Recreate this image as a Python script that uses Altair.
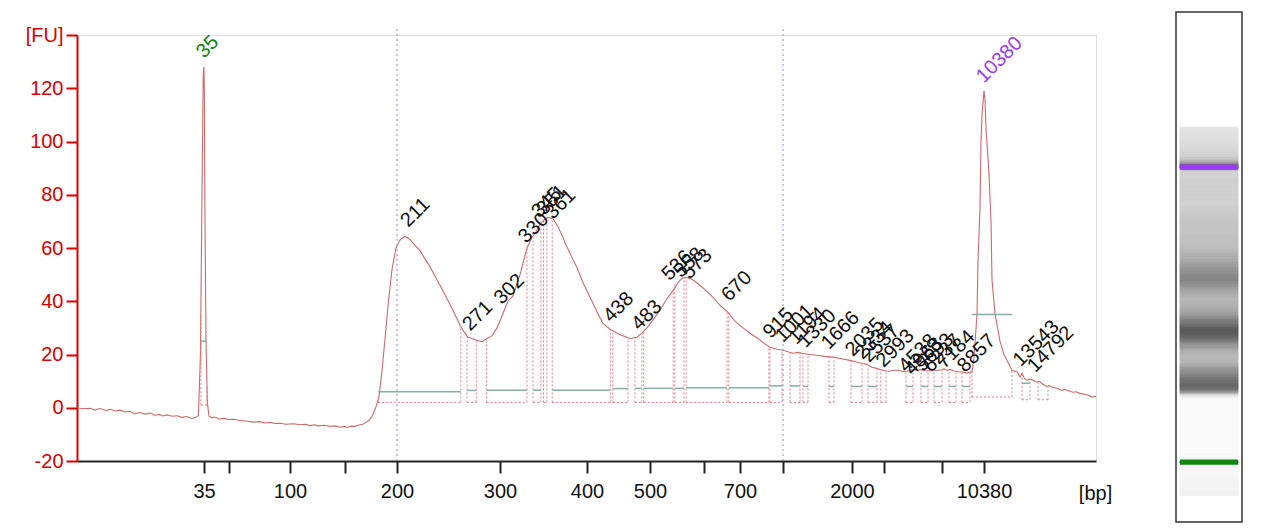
import altair as alt
import pandas as pd

# ---------------- data ----------------
CURVE_BP = [10, 11.2, 12.6, 13.5, 14.5, 15.7, 16.6, 17.5, 18.5, 19.5, 20.4, 21.4, 22.4, 23.4, 24.4,
            25.4, 26.2, 26.9, 27.8, 28.7, 29.7, 30.7, 31.6, 32.6, 33.3, 33.9, 34.3, 34.6, 34.85, 35.0,
            35.2, 35.6, 36.2, 37.0, 38.0, 39.8, 41.6, 44, 47, 50, 54, 59, 64, 69.7, 75, 79.5, 84, 87.7,
            92, 96.7, 103, 109.1, 114, 118.2, 122, 125.5, 131, 136.4, 141, 145.5, 150, 152, 156, 159.6,
            163, 167.3, 170, 173.1, 176, 177.9, 179.9, 182.7, 185.6, 188.5, 191.3, 195.2, 199.0, 202.9,
            207.8, 212.6, 217.5, 222.3, 227, 232.0, 236.8, 241.7, 248.5, 256.3, 261.2, 265, 268.9, 273,
            277.7, 282.5, 287.4, 292.2, 297.1, 303.4, 309.2, 314.9, 318, 323.0, 327, 331.0, 336.8, 341.4,
            346.0, 350.6, 355.2, 360.9, 366.7, 372.4, 376, 380.5, 384, 388.5, 395.4, 404.8, 410, 415.9,
            425.4, 436.5, 447.6, 457.1, 468.3, 479.4, 487.3, 495.2, 505.6, 518.5, 531.5, 542.6, 551.9,
            559.3, 566.7, 574.1, 583.3, 592.6, 605.6, 625.0, 644.4, 666.7, 686.1, 720.9, 769.8, 825.6,
            874.4, 909.3, 958.1, 1000, 1070, 1145, 1220, 1290, 1390, 1493, 1600, 1725, 1850, 1971, 2090,
            2188, 2330, 2469, 2620, 2781, 2900, 3000, 3200, 3414, 3700, 3966, 4300, 4586, 4800, 5069,
            5300, 5483, 5750, 6035, 6300, 6655, 7000, 7161, 7400, 7644, 7950, 8288, 8650, 9012, 9250,
            9414, 9575, 9817, 9897, 10058, 10139, 10219, 10380, 10466, 10552, 10809, 10981, 11067, 11325,
            11754, 12098, 12355, 12785, 13214, 13472, 13644, 13850, 14073, 14300, 14503, 14932, 15150,
            15362, 15791, 16000, 16221, 16650, 17080, 17300, 17509, 18024, 18300, 18626, 19141, 19400,
            19656, 20000]
CURVE_FU = [0.0, -0.4, -0.2, -0.9, -0.3, -1.0, -0.6, -1.2, -0.9, -1.6, -1.3, -2.3, -1.8, -2.4, -2.0,
            -2.8, -2.5, -3.1, -2.7, -3.2, -3.0, -3.6, -3.3, -4.0, -3.7, -3.0, 20, 80, 125, 128,
            118, 70, 25, 2, -3.2, -3.8, -3.5, -4.2, -4.0, -4.4, -4.3, -4.8, -5.0, -5.4, -5.2, -5.7, -5.5, -5.9,
            -5.8, -6.2, -6.0, -6.4, -6.2, -6.7, -6.4, -6.8, -6.6, -7.0, -6.8, -7.3, -7.0, -7.4, -6.9, -7.0,
            -6.5, -6.2, -5.5, -4.7, -3.2, -1.5, 0.5, 4, 14, 26, 38, 52, 60, 63,
            64.4, 63.2, 61, 59, 56, 53, 49.5, 46, 41, 35, 31, 28.5, 26.5, 26,
            25.3, 24.8, 26, 27, 30, 35.4, 40, 42, 45, 50, 55, 60, 64, 66,
            69, 70.5, 71.5, 71, 68, 64, 61, 58, 55.5, 52.7, 47, 41.5, 39, 36,
            31.7, 29.5, 28, 27, 26, 26.5, 28, 30, 33, 36.6, 41, 44, 47,
            48.6, 49, 48.6, 47.5, 46, 44, 41.5, 38.5, 35.8, 32.5, 30, 28, 26,
            24, 22.7, 22, 21.6, 21.0, 20.5, 20.8, 20.4, 20.0, 19.7, 19.3, 19.0, 18.4, 17.8, 17.4,
            17.0, 16.6, 16.3, 15.2, 14.8, 14.3, 14.0, 13.8, 13.7, 14.2, 14.0, 13.6, 13.7, 14.1, 14.3,
            14.0, 14.4, 14.0, 13.8, 14.2, 14.0, 14.3, 14.6, 14.1, 14.4, 13.8, 13.5, 13.4, 13.0, 13.4,
            13.3, 19, 35, 55, 75, 100, 110, 119, 116, 105, 88, 70, 48, 35.4,
            25, 20, 17.8, 14, 13.5, 11.5, 13, 11, 10.3, 10.8, 10.5, 9.6, 9.9,
            9, 8, 8.3, 7.8, 7.3, 6.5, 6.9, 6.6, 5.8, 6.0, 5.4, 5.0, 4.6,
            4.0, 4.3]

PEAK_BP = [35, 211, 271, 302, 330, 345, 351, 361, 438, 483, 536, 558, 573, 670, 915, 1001, 1194, 1330,
           1666, 2035, 2334, 2537, 2993, 4538, 4963, 5693, 6237, 7184, 8857, 10380, 13543, 14792]
PEAK_FU = [131, 67.5, 28.5, 38.5, 61.5, 71, 72, 70.5, 31.7, 28.7, 47.4, 48.5, 48, 39.6, 25.7, 24.2,
           23.5, 22.3, 21.6, 19, 17.8, 16.7, 14.8, 13, 11.8, 13.3, 13, 14.4, 13, 121.7, 15.2, 13]
PEAK_KIND = ["lower marker"] + ["sample"] * 28 + ["upper marker"] + ["sample"] * 2

REG_START = [34.4, 182, 268, 287, 338, 350, 360, 441, 476, 490, 546, 567, 669, 909, 1101, 1290, 1667,
             1986, 2500, 2900, 4517, 5552, 6448, 7563, 8610, 9414, 13644, 15018]
REG_END = [36.8, 262, 277, 331, 347, 354, 437, 465, 487, 543, 563, 664, 902, 993, 1246, 1362, 1739,
           2313, 2781, 3138, 5000, 6035, 7000, 8127, 9253, 12785, 14331, 15877]
REG_START_FU = [35, 4, 26.5, 26, 64, 70.5, 71, 28, 26.5, 29, 47, 49, 36, 22.7, 21, 20.4, 19,
                17.8, 15.2, 14.3, 13.7, 13.8, 14, 14.4, 13.4, 13.3, 13, 9.6]
REG_END_FU = [8, 31, 25.3, 60, 69, 71.5, 29.5, 26, 28, 44, 48.6, 35.8, 22.7, 21.6, 20.8, 20.2, 19,
              16.6, 14.8, 13.8, 14.3, 13.8, 14.3, 13.5, 13.4, 14, 10.8, 8]
REG_LOW = [1, 2, 2, 2, 2, 2, 2, 2, 2, 2, 2, 2, 2, 2, 2, 2, 2, 2, 2, 2, 2, 2, 2, 2, 2, 4, 3, 3]
REG_BASE = [25, 6.0, 6.5, 6.6, 6.6, None, 6.6, 7.2, 7.3, 7.3, 7.3, 7.5, 7.5, 8.2, 8.2, 8.0, 8.0,
            8.0, 8.0, None, 8.0, 8.0, 8.0, 8.0, 8.0, 35, 9.2, None]

REGION_MARKS = [200, 1000]

BAND_KIND = ["lower marker", "upper marker"]
BAND_FROM = [33.6, 9855]
BAND_TO = [38.8, 10947]

TICK_BP = [35, 50, 100, 150, 200, 300, 400, 500, 600, 700, 1000, 2000, 3000, 7000, 10380]
TICK_LABELED = [35, 100, 200, 300, 400, 500, 700, 2000, 10380]
Y_TICKS = [-20, 0, 20, 40, 60, 80, 100, 120, 140]

# ---------------- scale geometry (ladder calibration) ----------------
SCALE_BP = [10, 35, 50, 100, 150, 200, 300, 400, 500, 600, 700, 1000, 2000, 3000, 7000, 10380, 20000]
SCALE_PX = [0, 127, 152, 213, 268, 320, 423, 510, 573, 627, 663, 706, 775, 807, 865, 907, 1019]
LANE_PX = [427 - 0.3782 * (p - 127) for p in SCALE_PX]

W, H = 1019, 426
FONT = "Liberation Sans"
FS = 20
RED = "#d40000"
CURVE_COL = "#cc6a6a"
DOT_COL = "#e08080"
TEAL = "#86b0a6"
BLUE = "#8a8ad0"
GREEN = "#118811"
PURPLE = "#9b3cf0"

curve = pd.DataFrame({"bp": CURVE_BP, "fu": CURVE_FU})
peaks = pd.DataFrame({"bp": PEAK_BP, "fu": PEAK_FU, "kind": PEAK_KIND})
regions = pd.DataFrame({"start": REG_START, "end": REG_END, "start_fu": REG_START_FU,
                        "end_fu": REG_END_FU, "low": REG_LOW, "base": REG_BASE})
marks = pd.DataFrame({"bp": REGION_MARKS})
bands = pd.DataFrame({"kind": BAND_KIND, "from": BAND_FROM, "to": BAND_TO})


def xs():
    return alt.Scale(domain=SCALE_BP, range=SCALE_PX, nice=False, zero=False)


def ys():
    return alt.Scale(domain=[-20, 140], nice=False, zero=False)


label_expr = ("indexof([" + ",".join(str(v) for v in TICK_LABELED) +
              "], datum.value) >= 0 ? '' + datum.value : ''")
x_axis = alt.Axis(values=TICK_BP, labelExpr=label_expr, grid=False, orient="bottom",
                  domainColor="#222222", domainWidth=2, tickColor="#222222", tickWidth=2,
                  tickSize=12, labelPadding=8, labelFontSize=FS, labelColor="#111111",
                  labelFont=FONT, labelFlush=False, labelOverlap=False,
                  title="[bp]", titleX=1018, titleY=32, titleAlign="center",
                  titleBaseline="middle", titleFontWeight="normal", titleFontSize=FS,
                  titleFont=FONT, titleColor="#111111", titleAngle=0)
y_axis = alt.Axis(values=Y_TICKS, labelExpr="datum.value == 140 ? '[FU]' : '' + datum.value",
                  grid=False, orient="left", domainColor=RED, domainWidth=2, tickColor=RED,
                  tickWidth=2, tickSize=11, labelPadding=3, labelFontSize=FS, labelColor=RED,
                  labelFont=FONT, title=None, labelFlush=False, labelOverlap=False)


def X(f):
    return alt.X(f, type="quantitative", scale=xs(), axis=None)


def Y(f):
    return alt.Y(f, type="quantitative", scale=ys(), axis=None)


blue = alt.Chart(marks).mark_rule(color=BLUE, strokeDash=[2, 3], strokeWidth=1).encode(
    x=X("bp"), y=alt.YDatum(-20, type="quantitative", scale=ys(), axis=None), y2=alt.Y2Datum(143))

rc = alt.Chart(regions)
v_start = rc.mark_rule(color=DOT_COL, strokeDash=[2, 2], strokeWidth=1).encode(
    x=X("start"), y=Y("low"), y2="start_fu:Q")
v_end = rc.mark_rule(color=DOT_COL, strokeDash=[2, 2], strokeWidth=1).encode(
    x=X("end"), y=Y("low"), y2="end_fu:Q")
bottom = rc.mark_rule(color=DOT_COL, strokeDash=[2, 2], strokeWidth=1).encode(
    x=X("start"), x2="end:Q", y=Y("low"))
teal = rc.transform_filter("isValid(datum.base)").mark_rule(color=TEAL, strokeWidth=1.5).encode(
    x=X("start"), x2="end:Q", y=Y("base"))

line = alt.Chart(curve).mark_line(color=CURVE_COL, strokeWidth=1.1).encode(
    x=alt.X("bp:Q", scale=xs(), axis=x_axis), y=alt.Y("fu:Q", scale=ys(), axis=y_axis))

labels = alt.Chart(peaks).mark_text(angle=315, align="left", baseline="alphabetic",
                                    fontSize=FS, font=FONT).encode(
    x=X("bp"), y=Y("fu"), text=alt.Text("bp:Q", format="d"),
    color=alt.Color("kind:N", scale=alt.Scale(domain=["lower marker", "sample", "upper marker"],
                                              range=[GREEN, "#111111", PURPLE]), legend=None))

# ---------------- gel lane ----------------
def lane_x():
    return alt.Scale(domain=[0, 1], range=[1103, 1161], nice=False, zero=False)


def lane_y():
    return alt.Scale(domain=SCALE_BP, range=LANE_PX, nice=False, zero=False)


gray = alt.Scale(domain=[-5, 120], range=["#fafafa", "#000000"], clamp=True)
stripes = alt.Chart(curve).transform_window(
    bp_next="lead(bp)", sort=[alt.SortField("bp")]
).transform_filter(
    "isValid(datum.bp_next) && datum.bp >= 17 && datum.bp <= 19300"
).mark_rect(strokeWidth=1).encode(
    x=alt.XDatum(0, type="quantitative", scale=lane_x(), axis=None), x2=alt.X2Datum(1),
    y=alt.Y("bp:Q", scale=lane_y(), axis=None), y2="bp_next:Q",
    color=alt.Color("fu:Q", scale=gray, legend=None),
    stroke=alt.Stroke("fu:Q", scale=gray, legend=None))

band_low = alt.Chart(bands).transform_filter("datum.kind == 'lower marker'").mark_rect(
    color=GREEN).encode(
    x=alt.XDatum(0, type="quantitative", scale=lane_x(), axis=None), x2=alt.X2Datum(1),
    y=alt.Y("from:Q", scale=lane_y(), axis=None), y2="to:Q")
band_up = alt.Chart(bands).transform_filter("datum.kind == 'upper marker'").mark_rect(
    color=PURPLE).encode(
    x=alt.XDatum(0, type="quantitative", scale=lane_x(), axis=None), x2=alt.X2Datum(1),
    y=alt.Y("from:Q", scale=lane_y(), axis=None), y2="to:Q")

box = alt.Chart(alt.Data(values=[{}])).mark_rect(fillOpacity=0, stroke="#333333",
                                                  strokeWidth=1.5).encode(
    x=alt.XDatum(0, type="quantitative",
                 scale=alt.Scale(domain=[0, 1], range=[1099, 1165], nice=False, zero=False),
                 axis=None),
    x2=alt.X2Datum(1),
    y=alt.YDatum(0, type="quantitative",
                 scale=alt.Scale(domain=[0, 1], range=[-23, 487], nice=False, zero=False),
                 axis=None),
    y2=alt.Y2Datum(1))

chart = alt.layer(
    line, blue, v_start, v_end, bottom, teal, labels, stripes, band_low, band_up, box
).resolve_scale(
    x="independent", y="independent", color="independent", stroke="independent"
).properties(
    width=W, height=H,
    autosize=alt.AutoSizeParams(type="none"),
    padding={"left": 69, "top": 27, "right": 176, "bottom": 63},
    background="white",
).configure_view(strokeWidth=0, stroke="transparent").configure(font=FONT)

chart.save("out.html", embed_options={"renderer": "svg", "actions": False})
